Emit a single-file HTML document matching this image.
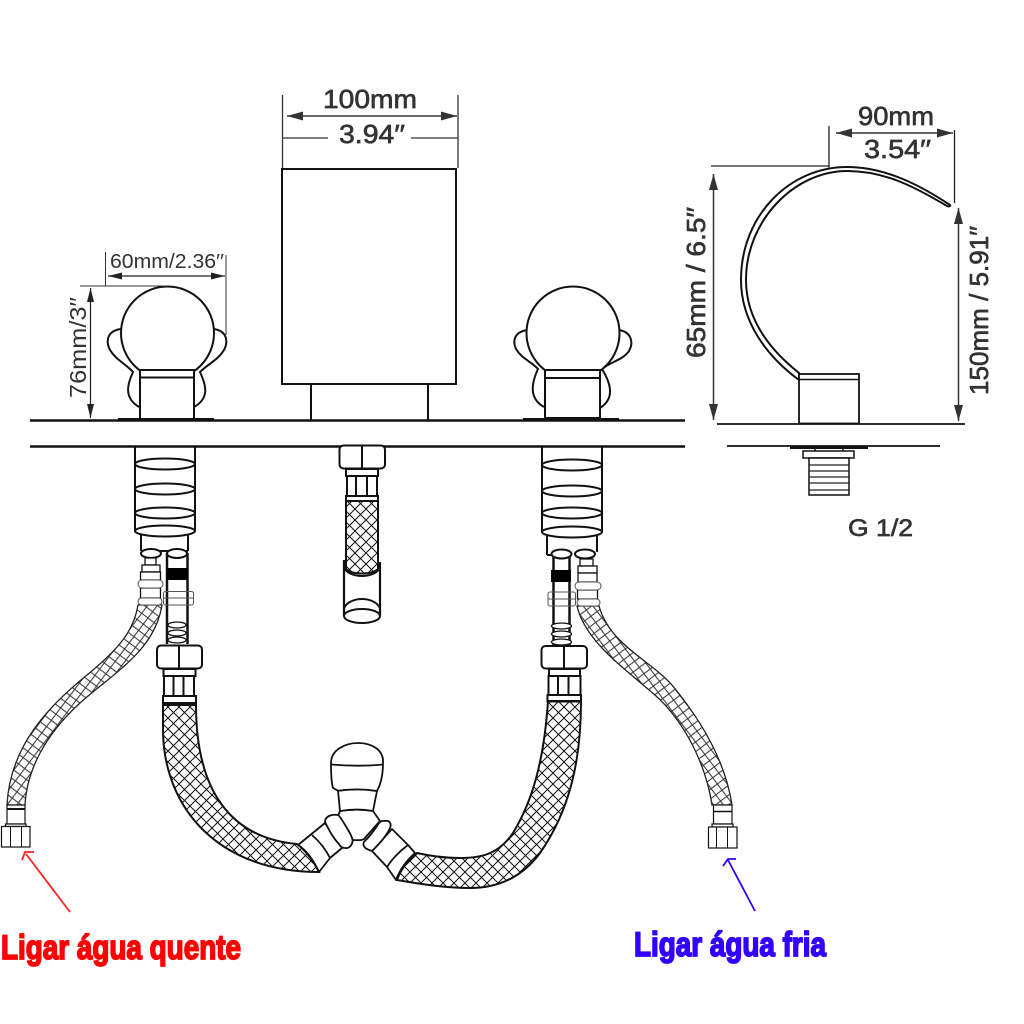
<!DOCTYPE html>
<html><head><meta charset="utf-8"><style>
html,body{margin:0;padding:0;background:#fff}
svg{display:block}
text{font-family:"Liberation Sans",sans-serif}
.d{fill:#333;stroke:#333;stroke-width:.65}
.s{font-family:"Liberation Sans",sans-serif;fill:#333;stroke:none}
.i{fill:none;stroke:#111;stroke-width:2}
.b{fill:#fff;stroke:#111;stroke-width:2}
.t{fill:#fff;stroke:#111;stroke-width:1.3}
.g{fill:#fff;stroke:#555;stroke-width:1}
.l{stroke:#333;stroke-width:1.3;fill:none}
</style></head><body>
<svg width="1024" height="1024" viewBox="0 0 1024 1024" xmlns="http://www.w3.org/2000/svg">
<defs>
<pattern id="h" width="11" height="11" patternUnits="userSpaceOnUse" patternTransform="translate(3,3)"><path d="M0,0L11,11M11,0L0,11" stroke="#111" stroke-width="1"/></pattern>
<pattern id="hl" width="11" height="11" patternUnits="userSpaceOnUse" patternTransform="rotate(-8)"><path d="M0,0L11,11M11,0L0,11" stroke="#333" stroke-width="1"/></pattern>
<pattern id="hr" width="11" height="11" patternUnits="userSpaceOnUse" patternTransform="rotate(8)"><path d="M0,0L11,11M11,0L0,11" stroke="#333" stroke-width="1"/></pattern>
<marker id="a" markerUnits="userSpaceOnUse" markerWidth="18" markerHeight="10" refX="16" refY="5" orient="auto-start-reverse"><path d="M0,0.5L16,5L0,9.5Z" fill="#333"/></marker>
<marker id="as" markerUnits="userSpaceOnUse" markerWidth="15" markerHeight="8" refX="14" refY="4" orient="auto-start-reverse"><path d="M0,0.5L14,4L0,7.5Z" fill="#222"/></marker>
</defs>

<!-- deck -->
<path d="M30,420.5H685M30,446.5H685" stroke="#111" stroke-width="2.4"/>

<!-- body -->
<rect x="282" y="169" width="174" height="215" class="i"/>
<path d="M311,384V420M428,384V420" class="i"/>

<!-- left handle -->
<path d="M120.5,329C108,331 105,340 110,350C116,360 126,364 133,372C127,385 124,398 139,407M214,329C226,331 229,340 224,350C218,360 208,364 200,372C206,385 210,398 194,407" class="i"/>
<circle cx="167.500" cy="333" r="46.500" class="b"/>
<rect x="140" y="370" width="54" height="49" class="b"/>
<path d="M140,377.500H194" class="i"/>
<rect x="118" y="418" width="96" height="2.500" fill="#111"/>

<!-- right handle -->
<path d="M527,330C515,332 512,340 516,349C522,359 532,362 538,369C532,382 528,398 544,407M619,330C631,332 634,342 629,351C623,360 610,362 602,369C610,382 616,398 600,408" class="i"/>
<circle cx="573" cy="333" r="46.500" class="b"/>
<rect x="545" y="370" width="55" height="48" class="b"/>
<path d="M545,378H600" class="i"/>
<rect x="523" y="418" width="96" height="2.500" fill="#111"/>

<!-- left under-deck -->
<path d="M141,531V551M188,531V551M135,447V531M195,447V531" class="i"/>
<path d="M141,551H188" class="i"/>
<g class="i"><ellipse cx="165" cy="464" rx="30" ry="5.500"/><ellipse cx="165" cy="489" rx="30" ry="5.500"/><ellipse cx="165" cy="513" rx="30" ry="5.500"/></g>
<ellipse cx="165" cy="531" rx="30" ry="5.500" class="b"/>
<path d="M167,553V644M187.500,553V644" stroke="#111" stroke-width="2.500" fill="none"/>
<rect x="167" y="568" width="21" height="12" fill="#000"/>
<ellipse cx="151" cy="553.500" rx="10" ry="4.500" class="b"/><ellipse cx="177" cy="553.500" rx="10" ry="4.500" class="b"/>
<rect x="163.500" y="591.500" width="30" height="13.500" rx="2" fill="none" stroke="#555" stroke-width="1"/>
<path d="M163.500,598H193.500" stroke="#555"/>
<ellipse cx="177" cy="625" rx="9" ry="3" class="t"/><ellipse cx="177" cy="633" rx="9" ry="3" class="t"/><ellipse cx="177" cy="640" rx="9" ry="3" class="t"/>

<!-- left small fitting -->
<g class="t">
<rect x="145" y="558" width="11" height="7"/><rect x="142" y="565" width="18" height="7"/><rect x="140.500" y="572" width="20" height="8"/>
<rect x="140.500" y="588" width="20" height="10"/>
</g>
<rect x="138" y="580" width="25" height="8" rx="4" class="g"/>
<path d="M138,605C134,630 120,648 87,675C50,705 10,745 7,805H25C27,770 45,735 80,703C115,672 155,650 162,605Z" fill="url(#hl)" stroke="#222" stroke-width="1.300"/>
<rect x="138" y="598" width="24" height="7" rx="3.500" class="g"/>
<g stroke="#111" stroke-width="1.200" fill="#fff">
<rect x="7" y="805" width="18" height="19"/><rect x="5.500" y="824" width="20.500" height="2.500"/><rect x="1.500" y="826.500" width="28.500" height="20.500"/>
</g>
<path d="M7,809H25" stroke="#111" stroke-width="2"/>
<path d="M10.500,827V847M21.500,827V847" stroke="#111" stroke-width="1"/>

<!-- Y connector -->
<g fill="#fff" stroke="#111" stroke-width="1.800" stroke-linejoin="round">
<!-- left arm -->
<path d="M325,823L298,845C306,850 313,859 319,872L330,858L342,848Z"/>
<path d="M312,835C320,842 326,850 330,858" fill="none"/>
<!-- right arm -->
<path d="M392,829L408,845L415,853C407,860 400,869 396,880L387,867L372,851Z"/>
<path d="M408,845C400,851 392,859 387,867" fill="none"/>
<!-- centre -->
<path d="M340,811C352,809 362,809 373,811L380,821L364,839C361,841 357,840 353,840L338,816Z"/>
<!-- pills -->
<path d="M325,822C325,816 332,814 338,815C340,816 351,834 352,838C354,843 350,849 345,848C342,848 340,846 339,844C333,838 329,830 325,822Z"/>
<path d="M364,842C362,846 365,849 372,851C378,845 386,837 390,828C392,823 389,820 385,821C382,820 380,822 379,823C374,831 369,837 364,842Z"/>
<!-- neck and head -->
<path d="M338,790.700L340,811C352,809 362,809 373,811L377,791C365,789 350,789 338,790.700Z"/>
<path d="M333,788C331,782 331,770 331,763C331,750 345,743 358,743C372,743 384,750 383,763C383,772 382,782 377,791C365,789 350,789 338,790.700Z"/>
<path d="M331,764.500C348,766 367,766 383,764.500" fill="none"/>
</g>

<!-- left big hose -->
<path d="M163,705V733C165,810 220,872 319,872C313,860 306,851 297,844C230,838 196,790 196,705Z" fill="url(#h)" stroke="#111" stroke-width="2"/>
<g class="b">
<rect x="163.500" y="669" width="32" height="7"/><rect x="164" y="676" width="30" height="20"/>
</g>
<path d="M173.500,676V696M183.500,676V696" class="i"/>
<rect x="163" y="696" width="33" height="9" class="b"/><rect x="163" y="702" width="33" height="3" fill="#111"/>
<rect x="157" y="645.500" width="45" height="23" rx="4" class="b"/><path d="M179,646V668" class="i"/>

<!-- centre hose -->
<g class="b"><rect x="339.500" y="445.500" width="45.500" height="23" rx="4"/><rect x="346" y="469" width="32" height="7"/><rect x="347" y="476" width="30" height="20"/></g>
<path d="M362,446V468M356,476V496M367,476V496" class="i"/>
<rect x="346" y="496" width="32" height="5" class="b"/>
<path d="M346,501H378V569C372,575 352,575 346,569Z" fill="url(#h)" stroke="#111" stroke-width="2"/>
<path d="M344,560V616M380,562V616" stroke="#111" stroke-width="2.200" fill="none"/>
<path d="M344,567C348,579 376,579 380,567" class="i"/>
<path d="M344,608C350,596 374,596 380,608" class="i"/>
<ellipse cx="362" cy="616" rx="18" ry="7" class="b"/>

<!-- right under-deck -->
<path d="M547,532V555M597,532V552M542,447V532M602,447V532" class="i"/>
<g class="i"><ellipse cx="572" cy="465" rx="30" ry="5.500"/><ellipse cx="572" cy="491" rx="30" ry="5.500"/><ellipse cx="572" cy="513" rx="30" ry="5.500"/></g>
<ellipse cx="572" cy="532" rx="30" ry="5.500" class="b"/>
<path d="M547,555H553" class="i"/>
<path d="M553.500,555V645M569.500,555V645" stroke="#111" stroke-width="2.500" fill="none"/>
<rect x="551" y="570" width="20" height="12" fill="#000"/>
<ellipse cx="561.500" cy="554" rx="10" ry="4.500" class="b"/><ellipse cx="585" cy="554" rx="10" ry="4.500" class="b"/>
<rect x="548" y="592" width="27.500" height="14" rx="2" fill="none" stroke="#555" stroke-width="1"/>
<path d="M548,599H575" stroke="#555"/>
<ellipse cx="561.500" cy="626" rx="10" ry="3" class="t"/><ellipse cx="561.500" cy="634" rx="10" ry="3" class="t"/><ellipse cx="561.500" cy="642" rx="10" ry="3" class="t"/>

<!-- right small fitting -->
<g class="t">
<rect x="580" y="559" width="13" height="7"/><rect x="578" y="566" width="19" height="7"/><rect x="578" y="573" width="19" height="9"/><rect x="577.500" y="590" width="20" height="9"/>
</g>
<rect x="575" y="582" width="26" height="8" rx="4" class="g"/>
<path d="M577,606C585,640 620,665 655,695C685,722 706,765 712,805H732C726,765 705,725 672,685C650,660 610,645 599,606Z" fill="url(#hr)" stroke="#222" stroke-width="1.300"/>
<rect x="577" y="599" width="23" height="7" rx="3.500" class="g"/>
<g stroke="#111" stroke-width="1.200" fill="#fff">
<rect x="713.500" y="805" width="18.500" height="19"/><rect x="712" y="824" width="21" height="3"/><rect x="708.500" y="827" width="28.500" height="21"/>
</g>
<path d="M713.500,811.500H732" stroke="#111" stroke-width="1.500"/>
<path d="M716.500,827V848M727.500,827V848" stroke="#111" stroke-width="1"/>

<!-- right big hose -->
<path d="M548,701C544,760 533,800 513,833C498,855 480,858 460,858C445,858 430,856 417,853C408,860 401,869 397,880C420,884 445,888 470,888C495,888 520,880 540,853C570,810 581,760 581,701Z" fill="url(#h)" stroke="#111" stroke-width="2"/>
<g class="b">
<rect x="549" y="669" width="31" height="7"/><rect x="548.500" y="676" width="32" height="19"/>
</g>
<path d="M558,676V695M568.500,676V695" class="i"/>
<rect x="547.500" y="695" width="33.500" height="6.500" class="b"/><rect x="547.500" y="700" width="33.500" height="2.500" fill="#111"/>
<rect x="541.500" y="646" width="45.500" height="22.500" rx="4" class="b"/><path d="M564,646V668" class="i"/>

<!-- dimensions: centre -->
<path d="M282.500,95V168M458,95V168" class="l"/>
<path d="M287,116H457" stroke="#333" stroke-width="1.600" marker-start="url(#a)" marker-end="url(#a)"/>
<path d="M283,138H328M411,138H458" class="l"/>
<text x="323" y="108" font-size="26" textLength="94" lengthAdjust="spacingAndGlyphs" class="d">100mm</text>
<text x="339" y="143" font-size="26" textLength="66" lengthAdjust="spacingAndGlyphs" class="d">3.94′′</text>

<!-- dimensions: left handle -->
<path d="M105.500,252V286M226,255V335M80,286H168" stroke="#333" stroke-width="1"/>
<path d="M108,276H225" stroke="#222" stroke-width="1.200" marker-start="url(#as)" marker-end="url(#as)"/>
<path d="M90.500,288V418" stroke="#222" stroke-width="1.200" marker-start="url(#as)" marker-end="url(#as)"/>
<text x="110" y="268" font-size="20" textLength="114" lengthAdjust="spacingAndGlyphs" class="s">60mm/2.36′′</text>
<text transform="translate(86,398) rotate(-90)" font-size="23" textLength="101" lengthAdjust="spacingAndGlyphs" class="s">76mm/3′′</text>

<!-- spout -->
<path d="M799,380C765,355 741,320 741,280C741,215 790,167 847,167C885,167 920,185 950,205C951,206 949,207 947,206C915,187 885,171 847,171C795,171 746,220 746,280C746,320 770,350 799,373Z" fill="#fff" stroke="#111" stroke-width="2"/>
<rect x="799" y="374" width="60" height="49.500" fill="#fff" stroke="#111" stroke-width="1.800"/>
<path d="M799,379.500H859" stroke="#111" stroke-width="1.600"/>
<path d="M717,424H965M727,446H940" stroke="#111" stroke-width="1.800"/>
<rect x="790" y="446" width="78" height="3" fill="#111"/>
<rect x="803" y="451" width="51" height="7" fill="#fff" stroke="#111" stroke-width="1.500"/>
<path d="M815,449V451M843,449V451" stroke="#111" stroke-width="1.500"/>
<rect x="809" y="458" width="40" height="37" fill="#fff" stroke="#111" stroke-width="1.500"/>
<path d="M809,465H849M809,471H849M809,477H849M809,483H849M809,490H849" stroke="#222" stroke-width="1.300"/>
<text x="848" y="536" font-size="24" textLength="65" lengthAdjust="spacingAndGlyphs" class="d">G 1/2</text>

<!-- dimensions: spout -->
<path d="M829,126V168M954.500,130V203M711,166H829" stroke="#222" stroke-width="1.300"/>
<path d="M836,133H953" stroke="#333" stroke-width="1.500" marker-start="url(#a)" marker-end="url(#a)"/>
<path d="M713.500,174V420" stroke="#333" stroke-width="1.500" marker-start="url(#a)" marker-end="url(#a)"/>
<path d="M958.500,208V421" stroke="#333" stroke-width="1.500" marker-start="url(#a)" marker-end="url(#a)"/>
<text x="858" y="125" font-size="26" textLength="76" lengthAdjust="spacingAndGlyphs" class="d">90mm</text>
<text x="864" y="158" font-size="26" textLength="67" lengthAdjust="spacingAndGlyphs" class="d">3.54′′</text>
<text transform="translate(705,358) rotate(-90)" font-size="26" textLength="151" lengthAdjust="spacingAndGlyphs" class="d">65mm / 6.5′′</text>
<text transform="translate(988,395) rotate(-90)" font-size="26" textLength="169" lengthAdjust="spacingAndGlyphs" class="d">150mm / 5.91′′</text>

<!-- annotations -->
<path d="M70,912L26,854M22,860L25,852L34,852" stroke="#f22" stroke-width="1.800" fill="none"/>
<path d="M755,911L728,860M723,866L728,859L736,859" stroke="#30f" stroke-width="1.800" fill="none"/>
<text x="1" y="959" font-size="34" font-weight="bold" textLength="240" lengthAdjust="spacingAndGlyphs" fill="#f00" stroke="#f00" stroke-width="1.700">Ligar água quente</text>
<text x="634" y="956" font-size="34" font-weight="bold" textLength="192" lengthAdjust="spacingAndGlyphs" fill="#30f" stroke="#30f" stroke-width="1.700">Ligar água fria</text>
</svg>
</body></html>
